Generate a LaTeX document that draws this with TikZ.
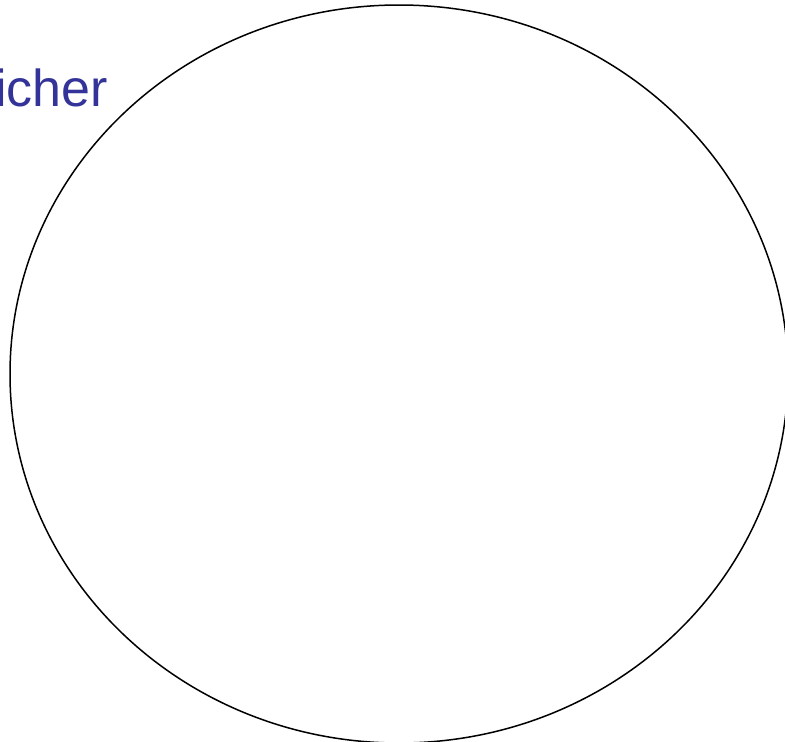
\documentclass[tikz,border=0pt]{standalone}
\usepackage{fontspec}
\setmainfont{Liberation Sans}
\usepackage{xcolor}
\usetikzlibrary{positioning}
\definecolor{labelblue}{RGB}{51,51,153}

\begin{document}
\begin{tikzpicture}[
  x=1pt, y=-1pt,
  title/.style={anchor=base east, inner sep=0pt, text=labelblue, font=\fontsize{52}{52}\selectfont},
  rim/.style={draw=black, line width=1.5pt}
]
  \useasboundingbox (0,0) rectangle (785,742);
  \clip (0,0) rectangle (785,742);

  % circle
  \draw[rim] (399,374) ellipse [x radius=389, y radius=369];

  % cut-off label
  \node[title] (lbl) at (108,106) {icher};
\end{tikzpicture}
\end{document}
